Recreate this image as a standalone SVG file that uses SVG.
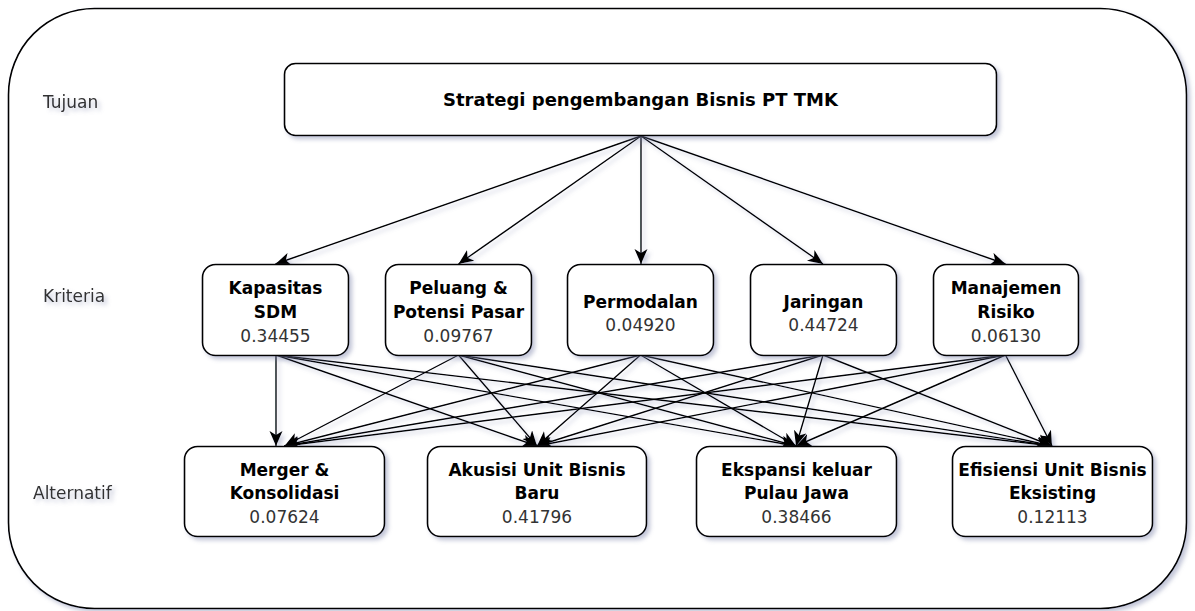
<svg xmlns="http://www.w3.org/2000/svg" width="1195" height="611" viewBox="0 0 1195 611">
<defs>
<filter id="sh" x="-20%" y="-20%" width="140%" height="140%">
<feDropShadow dx="3" dy="3" stdDeviation="2" flood-color="#7880a8" flood-opacity="0.45"/>
</filter>
<filter id="shl" x="0" y="0" width="1195" height="611" filterUnits="userSpaceOnUse">
<feDropShadow dx="3" dy="3" stdDeviation="2" flood-color="#7880a8" flood-opacity="0.4"/>
</filter>
<marker id="arr" markerUnits="userSpaceOnUse" markerWidth="16" markerHeight="14" refX="15" refY="6.5" orient="auto">
<path d="M0,0 L15,6.5 L0,13 L4,6.5 Z" fill="#000"/>
</marker>
<style>
.box{fill:#fff;stroke:#000;stroke-width:1.6;filter:url(#sh)}
.t{font-family:"DejaVu Sans","Liberation Sans",sans-serif;font-size:17px;text-anchor:middle}
.b{font-weight:bold;fill:#000}
.n{fill:#333}
.side{font-family:"DejaVu Sans","Liberation Sans",sans-serif;font-size:17px;fill:#333;filter:url(#sh)}
.c line{stroke:#000;stroke-width:1.4;fill:none;marker-end:url(#arr)}
</style>
</defs>
<rect x="8.5" y="8.5" width="1178" height="600" rx="86" ry="86" fill="#fff" stroke="#000" stroke-width="1.6" filter="url(#sh)"/>
<text class="side" x="43" y="108">Tujuan</text>
<text class="side" x="43" y="302">Kriteria</text>
<text class="side" x="33" y="499">Alternatif</text>
<g class="c" filter="url(#shl)">
<line x1="641" y1="136" x2="275.5" y2="264"/>
<line x1="641" y1="136" x2="458.5" y2="264"/>
<line x1="641" y1="136" x2="641" y2="264"/>
<line x1="641" y1="136" x2="823" y2="264"/>
<line x1="641" y1="136" x2="1005.5" y2="264"/>
<line x1="276" y1="355" x2="276" y2="446"/>
<line x1="276" y1="355" x2="537" y2="446"/>
<line x1="276" y1="355" x2="796" y2="446"/>
<line x1="276" y1="355" x2="1052" y2="446"/>
<line x1="458.5" y1="355" x2="284.5" y2="446"/>
<line x1="458.5" y1="355" x2="537" y2="446"/>
<line x1="458.5" y1="355" x2="796" y2="446"/>
<line x1="458.5" y1="355" x2="1052" y2="446"/>
<line x1="640.5" y1="355" x2="284.5" y2="446"/>
<line x1="640.5" y1="355" x2="537" y2="446"/>
<line x1="640.5" y1="355" x2="796" y2="446"/>
<line x1="640.5" y1="355" x2="1052" y2="446"/>
<line x1="823" y1="355" x2="284.5" y2="446"/>
<line x1="823" y1="355" x2="537" y2="446"/>
<line x1="823" y1="355" x2="796" y2="446"/>
<line x1="823" y1="355" x2="1052" y2="446"/>
<line x1="1005.5" y1="355" x2="284.5" y2="446"/>
<line x1="1005.5" y1="355" x2="537" y2="446"/>
<line x1="1005.5" y1="355" x2="796" y2="446"/>
<line x1="1005.5" y1="355" x2="1052" y2="446"/>
</g>
<g id="goal">
<rect class="box" x="284.5" y="63.5" width="712" height="72" rx="11"/>
<text class="t b" x="640.5" y="106" style="font-size:18px">Strategi pengembangan Bisnis PT TMK</text>
</g>
<g id="k1">
<rect class="box" x="202.5" y="264.5" width="146" height="91" rx="13"/>
<text class="t b" x="275.5" y="294">Kapasitas</text>
<text class="t b" x="275.5" y="318">SDM</text>
<text class="t n" x="275.5" y="342">0.34455</text>
</g>
<g id="k2">
<rect class="box" x="385.5" y="264.5" width="146" height="91" rx="13"/>
<text class="t b" x="458.5" y="294">Peluang &amp;</text>
<text class="t b" x="458.5" y="318">Potensi Pasar</text>
<text class="t n" x="458.5" y="342">0.09767</text>
</g>
<g id="k3">
<rect class="box" x="567.5" y="264.5" width="146" height="91" rx="13"/>
<text class="t b" x="640.5" y="308">Permodalan</text>
<text class="t n" x="640.5" y="331">0.04920</text>
</g>
<g id="k4">
<rect class="box" x="750.5" y="264.5" width="146" height="91" rx="13"/>
<text class="t b" x="823.5" y="308">Jaringan</text>
<text class="t n" x="823.5" y="331">0.44724</text>
</g>
<g id="k5">
<rect class="box" x="933.5" y="264.5" width="145" height="91" rx="13"/>
<text class="t b" x="1006" y="294">Manajemen</text>
<text class="t b" x="1006" y="318">Risiko</text>
<text class="t n" x="1006" y="342">0.06130</text>
</g>
<g id="a1">
<rect class="box" x="184.5" y="446.5" width="200" height="90" rx="13"/>
<text class="t b" x="284.5" y="476">Merger &amp;</text>
<text class="t b" x="284.5" y="499">Konsolidasi</text>
<text class="t n" x="284.5" y="523">0.07624</text>
</g>
<g id="a2">
<rect class="box" x="427.5" y="446.5" width="219" height="90" rx="13"/>
<text class="t b" x="537" y="476">Akusisi Unit Bisnis</text>
<text class="t b" x="537" y="499">Baru</text>
<text class="t n" x="537" y="523">0.41796</text>
</g>
<g id="a3">
<rect class="box" x="696.5" y="446.5" width="200" height="90" rx="13"/>
<text class="t b" x="796.5" y="476">Ekspansi keluar</text>
<text class="t b" x="796.5" y="499">Pulau Jawa</text>
<text class="t n" x="796.5" y="523">0.38466</text>
</g>
<g id="a4">
<rect class="box" x="952.5" y="446.5" width="200" height="90" rx="13"/>
<text class="t b" x="1052.5" y="476">Efisiensi Unit Bisnis</text>
<text class="t b" x="1052.5" y="499">Eksisting</text>
<text class="t n" x="1052.5" y="523">0.12113</text>
</g>
</svg>
